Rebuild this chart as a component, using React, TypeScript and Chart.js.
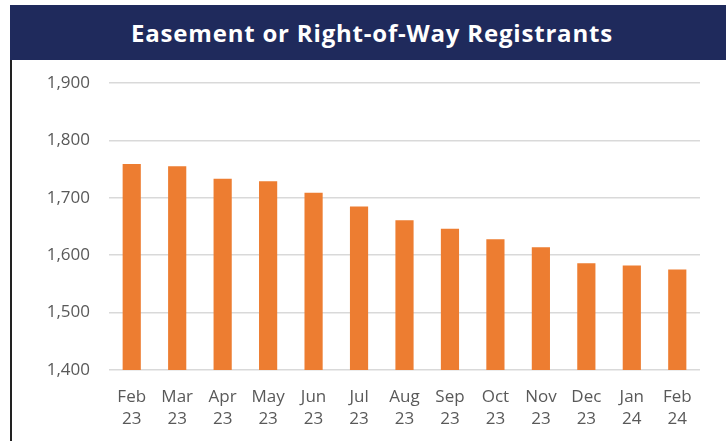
import React, { useEffect, useRef } from "react";
import { Chart, registerables } from "chart.js";

Chart.register(...registerables);

const title = "Easement or Right-of-Way Registrants";
const months = ["Feb", "Mar", "Apr", "May", "Jun", "Jul", "Aug", "Sep", "Oct", "Nov", "Dec", "Jan", "Feb"];
const years = ["23", "23", "23", "23", "23", "23", "23", "23", "23", "23", "23", "24", "24"];
const registrants = [1759, 1755, 1733, 1729, 1709, 1685, 1661, 1646, 1628, 1614, 1586, 1582, 1575];
const yMin = 1400;
const yMax = 1900;
const yStep = 100;

const FONT = "'Open Sans', Lato, sans-serif";

export default function App() {
  const ref = useRef<HTMLCanvasElement | null>(null);
  useEffect(() => {
    document.body.style.margin = "0";
    const ctx = ref.current!;
    const chart = new Chart(ctx, {
      type: "bar",
      data: {
        labels: months.map((m, i) => [m, years[i]]),
        datasets: [
          {
            data: registrants,
            backgroundColor: "#ED7D31",
            borderWidth: 0,
            barPercentage: 0.4,
            categoryPercentage: 1,
          },
        ],
      },
      options: {
        animation: false,
        responsive: false,
        maintainAspectRatio: false,
        layout: { padding: { top: 22, right: 26, bottom: 0, left: 0 } },
        plugins: { legend: { display: false }, tooltip: { enabled: false }, title: { display: false } },
        scales: {
          x: {
            grid: { display: false, drawTicks: false },
            border: { display: false },
            ticks: {
              color: "#595959",
              font: { family: FONT, size: 17, lineHeight: 1.25 },
              padding: 17,
              maxRotation: 0,
              autoSkip: false,
            },
            afterFit: (s: any) => {
              s.height = 71;
            },
          },
          y: {
            min: yMin,
            max: yMax,
            grid: { color: "#D9D9D9", lineWidth: 1.5, drawTicks: false },
            border: { display: false },
            ticks: {
              stepSize: yStep,
              color: "#595959",
              font: { family: FONT, size: 17 },
              padding: 19,
              callback: (v: any) => Number(v).toLocaleString("en-US"),
            },
            afterFit: (s: any) => {
              s.width = 97;
              s.paddingTop = 10;
              s.paddingBottom = 10;
            },
          },
        },
      },
    });
    return () => chart.destroy();
  }, []);

  return (
    <div style={{ position: "absolute", left: 0, top: 0, width: 726, height: 441, background: "#fff", overflow: "hidden" }}>
      <div
        style={{
          position: "absolute",
          left: 10,
          top: 5,
          width: 716,
          height: 55,
          background: "#1F2A5C",
          color: "#fff",
          fontFamily: FONT,
          fontWeight: 700,
          fontSize: 24,
          letterSpacing: "0.8px",
          display: "flex",
          alignItems: "center",
          justifyContent: "center",
          boxSizing: "border-box",
        }}
      >
        <span style={{ position: "relative", left: 4 }}>{title}</span>
      </div>
      <div style={{ position: "absolute", left: 10, top: 60, width: 2, height: 381, background: "#222" }} />
      <canvas
        ref={ref}
        width={714}
        height={380}
        style={{ position: "absolute", left: 12, top: 61, width: 714, height: 380 }}
      />
    </div>
  );
}
